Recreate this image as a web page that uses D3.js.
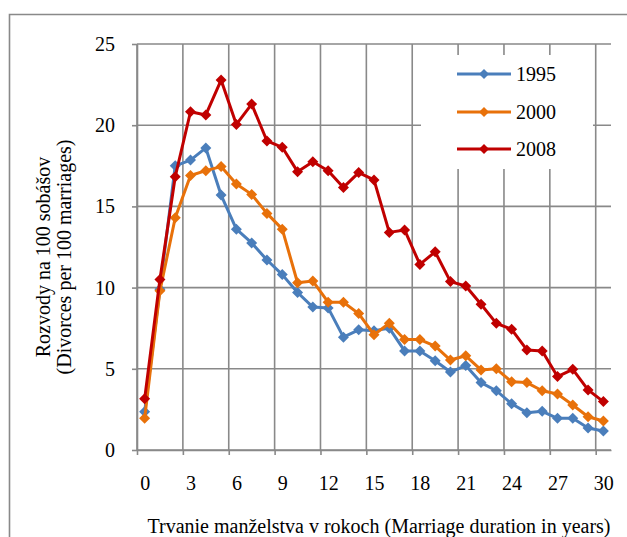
<!DOCTYPE html>
<html>
<head>
<meta charset="utf-8">
<script src="https://cdn.jsdelivr.net/npm/d3@7"></script>
<style>
  html, body { margin: 0; padding: 0; background: #fff; }
  svg { display: block; }
  svg text { font-family: "Liberation Serif", "Times New Roman", serif !important; fill: #000; }
</style>
</head>
<body>
<svg id="chart" width="627" height="537"></svg>
<script>
// ---- data ----
const years = d3.range(0, 31);
const xTickLabels = [0, 3, 6, 9, 12, 15, 18, 21, 24, 27, 30];
const yTicks = [0, 5, 10, 15, 20, 25];
const seriesNames = ["1995", "2000", "2008"];
const values1995 = [2.35, 9.9, 17.5, 17.85, 18.6, 15.7, 13.6, 12.75, 11.7, 10.8, 9.7, 8.8, 8.75, 6.95, 7.4, 7.35, 7.5, 6.1, 6.1, 5.5, 4.8, 5.2, 4.15, 3.65, 2.85, 2.3, 2.38, 1.95, 1.95, 1.35, 1.17];
const values2000 = [1.95, 9.8, 14.3, 16.9, 17.2, 17.45, 16.38, 15.74, 14.57, 13.6, 10.3, 10.4, 9.1, 9.1, 8.4, 7.1, 7.8, 6.8, 6.8, 6.4, 5.54, 5.8, 4.93, 5.0, 4.2, 4.15, 3.65, 3.45, 2.77, 2.05, 1.79];
const values2008 = [3.15, 10.5, 16.83, 20.83, 20.63, 22.78, 20.05, 21.3, 19.03, 18.64, 17.14, 17.75, 17.2, 16.17, 17.08, 16.63, 13.4, 13.55, 11.43, 12.2, 10.37, 10.1, 8.97, 7.8, 7.43, 6.16, 6.1, 4.52, 4.97, 3.7, 2.98];
const seriesColors = ["#4a7ebb", "#e8710a", "#c00000"];
const yTitle1 = "Rozvody na 100 sobášov";
const yTitle2 = "(Divorces per 100 marriages)";
const xTitle = "Trvanie manželstva v rokoch (Marriage duration in years)";

const series = [values1995, values2000, values2008].map((v, i) => ({
  name: seriesNames[i], color: seriesColors[i], values: v
}));

// ---- layout ----
const FONT = "'Liberation Serif', 'Times New Roman', serif";
const svg = d3.select("#chart").attr("font-family", FONT);
const gridColor = "#898989";
const x = d3.scaleLinear().domain([-0.5, 30.5]).range([137, 611]);
const y = d3.scaleLinear().domain([0, 25]).range([450, 44]);
const boundaries = d3.range(-0.5, 30, 3);

// outer frame (cut at right/bottom)
svg.append("path")
  .attr("d", "M9.5,540 V14.5 H630")
  .attr("fill", "none").attr("stroke", gridColor).attr("stroke-width", 1.6);

// gridlines
const grid = svg.append("g");
grid.selectAll("line.h").data(yTicks).join("line")
  .attr("x1", x(-0.5)).attr("x2", x(30.5))
  .attr("y1", d => y(d)).attr("y2", d => y(d))
  .attr("stroke", gridColor).attr("stroke-width", 1.6);
grid.selectAll("line.v").data(boundaries).join("line")
  .attr("x1", d => x(d)).attr("x2", d => x(d))
  .attr("y1", y(25)).attr("y2", y(0))
  .attr("stroke", gridColor).attr("stroke-width", 1.6);

// y axis
const yAxis = svg.append("g").attr("transform", `translate(${x(-0.5)},0)`)
  .call(d3.axisLeft(y).tickValues(yTicks).tickSizeInner(5).tickSizeOuter(0).tickPadding(17));
yAxis.attr("font-family", FONT).attr("font-size", 20);
yAxis.select(".domain").attr("stroke", gridColor).attr("stroke-width", 1.6);
yAxis.selectAll(".tick line").attr("stroke", gridColor).attr("stroke-width", 1.6);

// x axis ticks (at category boundaries)
const xTicksAxis = svg.append("g").attr("transform", `translate(0,${y(0)})`)
  .call(d3.axisBottom(x).tickValues(boundaries).tickSizeInner(5).tickSizeOuter(0).tickFormat(""));
xTicksAxis.select(".domain").attr("stroke", gridColor).attr("stroke-width", 1.6);
xTicksAxis.selectAll(".tick line").attr("stroke", gridColor).attr("stroke-width", 1.6);

// x axis labels
const xLabAxis = svg.append("g").attr("transform", `translate(0,${y(0)})`)
  .call(d3.axisBottom(x).tickValues(xTickLabels).tickSize(0).tickPadding(26));
xLabAxis.attr("font-family", FONT).attr("font-size", 20);
xLabAxis.select(".domain").remove();

// series
const line = d3.line().x((d, i) => x(years[i])).y(d => y(d));
const diamond = s => `M0,${-s} L${s},0 L0,${s} L${-s},0 Z`;
series.forEach(s => {
  const g = svg.append("g");
  g.append("path").attr("d", line(s.values))
    .attr("fill", "none").attr("stroke", s.color).attr("stroke-width", 3)
    .attr("stroke-linejoin", "round");
  g.selectAll("path.m").data(s.values).join("path")
    .attr("class", "m")
    .attr("d", diamond(5.5))
    .attr("transform", (d, i) => `translate(${x(years[i])},${y(d)})`)
    .attr("fill", s.color);
});

// legend
const leg = svg.append("g");
leg.append("rect").attr("x", 421).attr("y", 55).attr("width", 172).attr("height", 114).attr("fill", "#fff");
const legY = [74, 112, 149];
series.forEach((s, i) => {
  leg.append("line").attr("x1", 457).attr("x2", 511).attr("y1", legY[i]).attr("y2", legY[i])
    .attr("stroke", s.color).attr("stroke-width", 3);
  leg.append("path").attr("d", diamond(5)).attr("transform", `translate(484,${legY[i]})`).attr("fill", s.color);
  leg.append("text").attr("x", 516).attr("y", legY[i]).attr("dy", "0.35em")
    .attr("font-size", 20).text(s.name);
});

// axis titles
svg.append("text").attr("x", 379).attr("y", 533).attr("text-anchor", "middle")
  .attr("font-size", 20).text(xTitle);
svg.append("g").attr("transform", "translate(50,257) rotate(-90)")
  .append("text").attr("text-anchor", "middle").attr("font-size", 20).text(yTitle1);
svg.append("g").attr("transform", "translate(71,257) rotate(-90)")
  .append("text").attr("text-anchor", "middle").attr("font-size", 20).text(yTitle2);
</script>
</body>
</html>
